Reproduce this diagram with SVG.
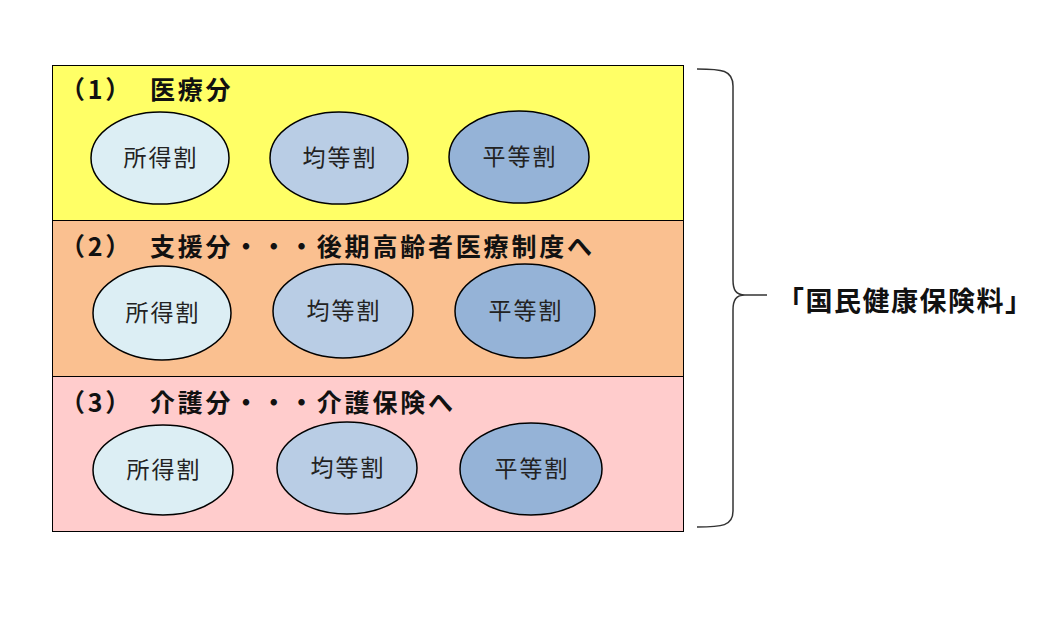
<svg xmlns="http://www.w3.org/2000/svg" width="1052" height="622" viewBox="0 0 1052 622">
<style>
.band{stroke:#000;stroke-width:1}
.el{stroke:#000;stroke-width:1.5}
.t1{fill:#DCEEF4}.t2{fill:#B9CDE5}.t3{fill:#95B3D7}
.lbl{font-family:"Noto Sans CJK JP","Noto Sans",sans-serif;font-size:23px;fill:#222;text-anchor:middle;letter-spacing:2px}
.ttl{font-family:"Noto Sans CJK JP","Noto Sans",sans-serif;font-size:25px;font-weight:bold;fill:#111;letter-spacing:2.8px}
</style>
<rect width="1052" height="622" fill="#fff"/>
<g id="band1">
<rect class="band" x="52.5" y="65.5" width="631" height="155" fill="#FFFF66"/>
<text class="ttl"><tspan x="60" y="99">（1）</tspan><tspan x="150" y="99">医療分</tspan></text>
<g id="b1-shotoku"><ellipse class="el t1" cx="160" cy="158" rx="69" ry="46"/><text class="lbl" x="161" y="166">所得割</text></g>
<g id="b1-kinto"><ellipse class="el t2" cx="339" cy="158" rx="69" ry="46"/><text class="lbl" x="340" y="166">均等割</text></g>
<g id="b1-byodo"><ellipse class="el t3" cx="519" cy="157" rx="70" ry="46"/><text class="lbl" x="520" y="165">平等割</text></g>
</g>
<g id="band2">
<rect class="band" x="52.5" y="220.5" width="631" height="156" fill="#FAC090"/>
<text class="ttl"><tspan x="60" y="256">（2）</tspan><tspan x="150" y="256">支援分・・・後期高齢者医療制度へ</tspan></text>
<g id="b2-shotoku"><ellipse class="el t1" cx="162" cy="313" rx="69" ry="47"/><text class="lbl" x="163" y="321">所得割</text></g>
<g id="b2-kinto"><ellipse class="el t2" cx="343" cy="311" rx="70" ry="47"/><text class="lbl" x="344" y="319">均等割</text></g>
<g id="b2-byodo"><ellipse class="el t3" cx="525" cy="311" rx="70" ry="47"/><text class="lbl" x="526" y="319">平等割</text></g>
</g>
<g id="band3">
<rect class="band" x="52.5" y="376.5" width="631" height="155" fill="#FFCCCC"/>
<text class="ttl"><tspan x="60" y="412">（3）</tspan><tspan x="150" y="412">介護分・・・介護保険へ</tspan></text>
<g id="b3-shotoku"><ellipse class="el t1" cx="163" cy="470" rx="70" ry="45"/><text class="lbl" x="164" y="478">所得割</text></g>
<g id="b3-kinto"><ellipse class="el t2" cx="347" cy="468" rx="70" ry="46"/><text class="lbl" x="348" y="476">均等割</text></g>
<g id="b3-byodo"><ellipse class="el t3" cx="531" cy="469" rx="71" ry="46"/><text class="lbl" x="532" y="477">平等割</text></g>
</g>
<g id="connectors">
<path d="M697,69 C722,69 733,70 733,86 L733,280 C733,290 736,295 745,295 L767,295 M745,295 C736,295 733,300 733,310 L733,511 C733,526 722,527 697,527" fill="none" stroke="#333" stroke-width="1.5"/>
</g>
<g id="total">
<text x="777" y="311" style="font-family:'Noto Sans CJK JP','Noto Sans',sans-serif;font-size:27px;font-weight:bold;fill:#111;letter-spacing:1.5px">「国民健康保険料」</text>
</g>
</svg>
